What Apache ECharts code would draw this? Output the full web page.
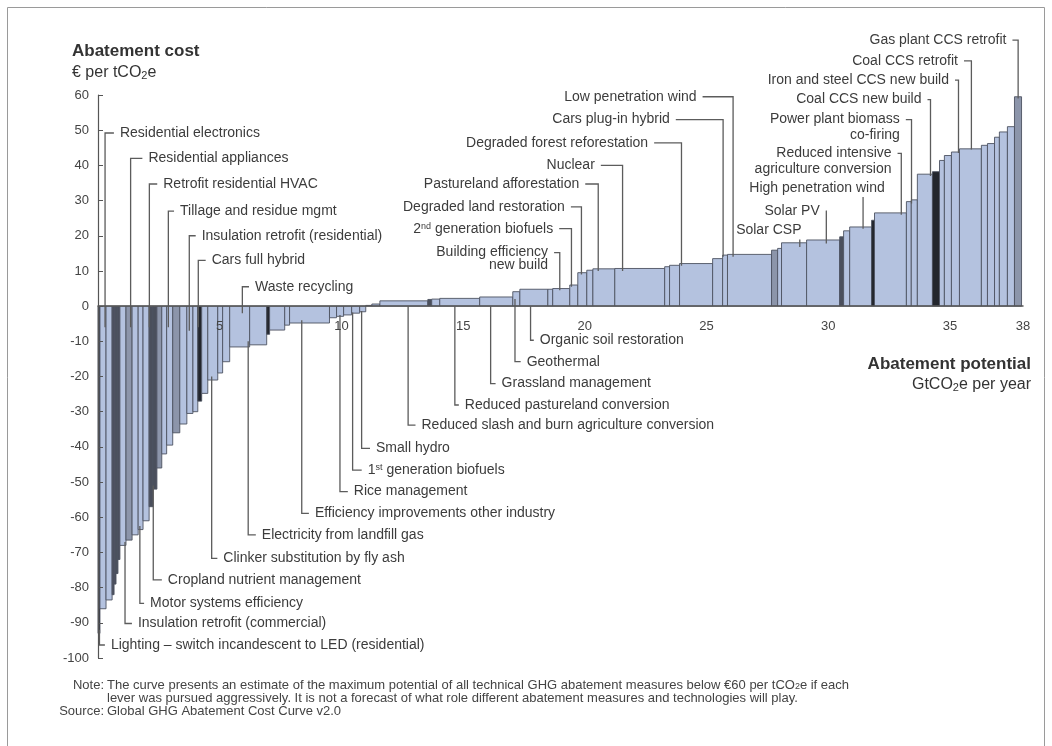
<!DOCTYPE html>
<html><head><meta charset="utf-8">
<script src="https://cdn.jsdelivr.net/npm/echarts@6/dist/echarts.min.js"></script>
<style>html,body{margin:0;padding:0;background:#fff}#c{width:1052px;height:746px}</style>
</head><body><div id="c"></div>
<script>
// ---- data: abatement levers, in order along the curve ----
// width = abatement potential (GtCO2e per year), cost = EUR per tCO2e
const barWidths = [
  0.08,0.25,0.25,0.08,0.08,0.08,0.08,0.25,0.25,0.25,0.2,0.25,0.16,0.16,0.2,0.2,0.25,0.29,0.29,0.25,
  0.2,0.16,0.25,0.41,0.2,0.29,0.82,0.7,0.12,0.62,0.2,1.64,0.29,0.29,0.33,0.33,0.25,
  0.25,0.33,1.97,0.16,0.33,1.64,1.36,0.29,1.15,0.2,0.7,0.33,0.37,0.25,0.9,2.05,0.2,0.41,1.36,0.41,
  0.2,1.81,0.25,0.16,1.03,1.36,0.16,0.25,0.9,0.12,1.31,0.2,0.25,0.62,0.29,0.2,0.29,0.33,0.9,0.25,
  0.29,0.2,0.33,0.29,0.29
];
const barCosts = [
  -93,-86,-83.5,-82,-79,-76,-72,-68,-66.5,-65,-63.5,-61,-57,-52,-46,-42,-39.5,-36,-33.5,-30.5,
  -30,-27,-24.8,-21,-19,-15.8,-11.6,-11,-8,-6.8,-5.4,-4.8,-3.3,-2.9,-2.5,-2,-1.6,
  0.2,0.6,1.5,1.9,2.0,2.2,2.6,4.1,4.8,4.8,5.0,6.0,9.5,10.2,10.6,10.7,11.2,11.6,12.1,13.5,
  14.5,14.7,15.9,16.4,18.0,18.8,19.7,21.4,22.5,24.4,26.5,29.7,30.2,37.5,38.2,41.4,42.8,43.8,44.7,45.7,
  46.2,48,49.5,51,59.5
];
// 0 = light, 1 = medium grey, 2 = dark grey, 3 = near black
const barShades = [
  3,0,0,2,2,2,2,0,1,0,0,0,2,2,1,0,0,1,0,0,
  0,3,0,0,0,0,0,0,3,0,0,0,0,0,0,0,0,
  0,0,0,2,0,0,0,0,0,0,0,0,0,0,0,0,0,0,0,0,
  0,0,1,0,0,0,2,0,0,3,0,0,0,0,3,0,0,0,0,0,
  0,0,0,0,1
];
const xTickValues = [5,10,15,20,25,30,35,38];
const yMin = -100, yMax = 60, yStep = 10;
const xMin = 0, xMax = 38;

// ---- lever labels: [text, side, textX (Gt), textY (cost), leaderX (Gt), leaderFrom, leaderTo] ----
const leverLabels = [
  ['Residential electronics','R',0.90,49.2,0.29,49.2,-6],
  ['Residential appliances','R',2.07,42,1.34,42,-6],
  ['Retrofit residential HVAC','R',2.68,34.7,2.11,34.7,-6],
  ['Tillage and residue mgmt','R',3.37,27,2.89,27,-6],
  ['Insulation retrofit (residential)','R',4.26,20,3.75,20,-7],
  ['Cars full hybrid','R',4.67,13,4.12,13,-6],
  ['Waste recycling','R',6.45,5.5,5.93,5.5,-2],
  ['Lighting – switch incandescent to LED (residential)','R',0.53,-96.3,0.06,-96.3,-92],
  ['Insulation retrofit (commercial)','R',1.64,-90.2,1.11,-90.2,-67],
  ['Motor systems efficiency','R',2.14,-84.5,1.72,-84.5,-62.5],
  ['Cropland nutrient management','R',2.87,-77.8,2.27,-77.8,-51],
  ['Clinker substitution by fly ash','R',5.15,-71.7,4.67,-71.7,-20],
  ['Electricity from landfill gas','R',6.73,-65,6.17,-65,-10],
  ['Efficiency improvements other industry','R',8.91,-58.9,8.37,-58.9,-4],
  ['Rice management','R',10.51,-52.7,9.94,-52.7,-2.5],
  ['1{sup|st} generation biofuels','R',11.08,-46.6,10.46,-46.6,-1.8],
  ['Small hydro','R',11.42,-40.4,10.83,-40.4,-1.4],
  ['Reduced slash and burn agriculture conversion','R',13.29,-33.8,12.74,-33.8,0],
  ['Reduced pastureland conversion','R',15.07,-28.1,14.66,-28.1,0],
  ['Grassland management','R',16.58,-22,16.13,-22,0],
  ['Geothermal','R',17.61,-15.8,17.13,-15.8,2],
  ['Organic soil restoration','R',18.15,-9.7,17.77,-9.7,0],
  ['Building efficiency','L',18.49,15.2,18.97,15.2,4.5],
  ['new build','L',18.49,11.6,null,null,null],
  ['2{sup|nd} generation biofuels','L',18.7,22,19.45,22,5.5],
  ['Degraded land restoration','L',19.18,28.2,19.86,28.2,9],
  ['Pastureland afforestation','L',19.77,34.7,20.55,34.7,10],
  ['Nuclear','L',20.41,40,21.55,40,10],
  ['Degraded forest reforestation','L',22.6,46.4,23.97,46.4,11.5],
  ['Cars plug-in hybrid','L',23.49,53,25.68,53,14],
  ['Low penetration wind','L',24.59,59.5,26.09,59.5,14],
  ['Solar CSP','B',28.9,21.6,28.83,18.9,16.8],
  ['Solar PV','L',29.65,27,29.92,27,17.8],
  ['High penetration wind','B',32.32,33.4,31.43,31,22],
  ['Reduced intensive','L',32.6,43.4,33.0,43.4,26],
  ['agriculture conversion','L',32.6,38.8,null,null,null],
  ['Power plant biomass','L',32.94,53,33.42,53,29.2],
  ['co-firing','L',32.94,48.6,null,null,null],
  ['Coal CCS new build','L',33.83,58.7,34.2,58.7,37],
  ['Iron and steel CCS new build','L',34.96,64.2,35.35,64.2,43.5],
  ['Coal CCS retrofit','L',35.33,69.7,35.88,69.7,44.5],
  ['Gas plant CCS retrofit','L',37.32,75.6,37.8,75.6,59]
];

// ---- build bar rows from the arrays ----
const barRows = [];
let cum = 0;
for (let i = 0; i < barWidths.length; i++) {
  barRows.push([cum, cum + barWidths[i], barCosts[i], barShades[i]]);
  cum += barWidths[i];
}
const shadeFill = ['#b4c2df', '#8c95aa', '#4a4f5c', '#23262d'];
const textColor = '#3c3c3c';
const lineColor = '#5c5c5c';
const FF = '"Liberation Sans", Arial, sans-serif';
const labelFont = '14px ' + FF;
const richStyles = {
  sup: { fontSize: 9, verticalAlign: 'top', fill: textColor, fontFamily: FF },
  sub: { fontSize: 11, verticalAlign: 'bottom', fill: '#333', fontFamily: FF }
};

const gridTop = 95, gridBottom = 88, chartH = 746;
const gridH = chartH - gridTop - gridBottom;
// move the category axis (line + labels) up to the zero level
const zeroOffset = -gridH * (0 - yMin) / (yMax - yMin);

const chart = echarts.init(document.getElementById('c'), null, { renderer: 'canvas' });

function renderBar(params, api) {
  const s = api.value(0), e = api.value(1), c = api.value(2), sh = api.value(3);
  const p0 = api.coord([s, 0]);
  const p1 = api.coord([e, c]);
  return {
    type: 'rect',
    shape: { x: p0[0], y: Math.min(p0[1], p1[1]), width: p1[0] - p0[0], height: Math.abs(p1[1] - p0[1]) },
    style: { fill: shadeFill[sh], stroke: '#4d5261', lineWidth: 0.9 }
  };
}

function renderLabel(params, api) {
  const a = leverLabels[params.dataIndex];
  const [text, side, tx, ty, lx, ly1, ly2] = a;
  const tp = api.coord([tx, ty]);
  const children = [{
    type: 'text',
    style: {
      text: text, x: tp[0], y: tp[1],
      align: side === 'R' ? 'left' : 'right', verticalAlign: 'middle',
      fill: textColor, font: labelFont, rich: richStyles
    }
  }];
  if (lx !== null) {
    const p1 = api.coord([lx, ly1]);
    const p2 = api.coord([lx, ly2]);
    let pts;
    if (side === 'R') pts = [[tp[0] - 6, tp[1]], [p1[0], tp[1]], [p2[0], p2[1]]];
    else if (side === 'L') pts = [[tp[0] + 6, tp[1]], [p1[0], tp[1]], [p2[0], p2[1]]];
    else pts = [[p1[0], p1[1]], [p2[0], p2[1]]];
    children.push({ type: 'polyline', shape: { points: pts }, style: { stroke: lineColor, lineWidth: 1.3, fill: null } });
  }
  return { type: 'group', children: children };
}

const option = {
  backgroundColor: '#fff',
  animation: false,
  grid: { left: 98, right: 29, top: gridTop, bottom: gridBottom },
  xAxis: {
    type: 'value', min: xMin, max: xMax, z: 5, position: 'bottom', offset: zeroOffset,
    axisLine: { onZero: false, lineStyle: { color: '#555', width: 1.5 } },
    axisTick: { show: false },
    splitLine: { show: false },
    axisLabel: { customValues: xTickValues, color: '#444', fontSize: 13, margin: 14, fontFamily: FF }
  },
  yAxis: {
    type: 'value', min: yMin, max: yMax, interval: yStep, z: 5,
    axisLine: { show: true, onZero: false, lineStyle: { color: '#555', width: 1.2 } },
    axisTick: { show: true, inside: true, length: 5, lineStyle: { color: '#555' } },
    splitLine: { show: false },
    axisLabel: { color: '#444', fontSize: 13, margin: 9, fontFamily: FF }
  },
  series: [
    {
      type: 'custom', name: 'bars', renderItem: renderBar, clip: false, silent: true,
      encode: { x: [0, 1], y: 2 }, data: barRows
    },
    {
      type: 'custom', name: 'labels', renderItem: renderLabel, clip: false, silent: true, z: 4,
      encode: { x: 0, y: 1 }, data: leverLabels.map(a => [a[2], a[3]])
    }
  ],
  graphic: [
    { type: 'rect', shape: { x: 7.5, y: 7.5, width: 1037, height: 760 }, style: { fill: null, stroke: '#9a9a9a', lineWidth: 1 }, silent: true },
    { type: 'text', x: 72, y: 51, style: { text: 'Abatement cost', font: 'bold 17px ' + FF, fill: '#333', verticalAlign: 'middle' } },
    { type: 'text', x: 72, y: 73, style: { text: '€ per tCO{sub|2}e', font: '16px ' + FF, fill: '#333', verticalAlign: 'middle', rich: richStyles } },
    { type: 'text', x: 1031, y: 364, style: { text: 'Abatement potential', font: 'bold 17px ' + FF, fill: '#333', align: 'right', verticalAlign: 'middle' } },
    { type: 'text', x: 1031, y: 385, style: { text: 'GtCO{sub|2}e per year', font: '16px ' + FF, fill: '#333', align: 'right', verticalAlign: 'middle', rich: richStyles } },
    { type: 'text', x: 104, y: 685, style: { text: 'Note:', font: '13px ' + FF, fill: '#444', align: 'right', verticalAlign: 'middle' } },
    { type: 'text', x: 107, y: 685, style: { text: 'The curve presents an estimate of the maximum potential of all technical GHG abatement measures below €60 per tCO{s|2}e if each', font: '13px ' + FF, fill: '#444', verticalAlign: 'middle', rich: { s: { fontSize: 9, verticalAlign: 'bottom', fill: '#444', fontFamily: FF } } } },
    { type: 'text', x: 107, y: 698, style: { text: 'lever was pursued aggressively. It is not a forecast of what role different abatement measures and technologies will play.', font: '13px ' + FF, fill: '#444', verticalAlign: 'middle' } },
    { type: 'text', x: 104, y: 711, style: { text: 'Source:', font: '13px ' + FF, fill: '#444', align: 'right', verticalAlign: 'middle' } },
    { type: 'text', x: 107, y: 711, style: { text: 'Global GHG Abatement Cost Curve v2.0', font: '13px ' + FF, fill: '#444', verticalAlign: 'middle' } }
  ]
};
chart.setOption(option);
</script></body></html>
